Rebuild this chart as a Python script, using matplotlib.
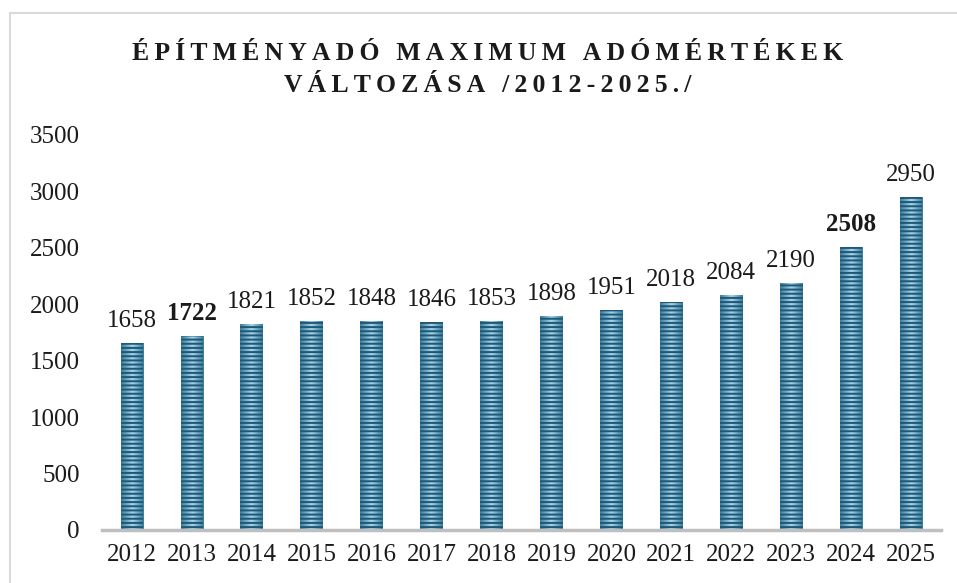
import numpy as np
import matplotlib
matplotlib.use('Agg')
from matplotlib import pyplot as plt
from matplotlib.colors import LinearSegmentedColormap
from matplotlib.patches import Rectangle

years = ['2012', '2013', '2014', '2015', '2016', '2017', '2018',
         '2019', '2020', '2021', '2022', '2023', '2024', '2025']
values = [1658, 1722, 1821, 1852, 1848, 1846, 1853,
          1898, 1951, 2018, 2084, 2190, 2508, 2950]
bold_years = ['2013', '2024']
title_lines = ['ÉPÍTMÉNYADÓ MAXIMUM ADÓMÉRTÉKEK', 'VÁLTOZÁSA /2012-2025./']

serif = ['Liberation Serif', 'DejaVu Serif']
plt.rcParams['font.family'] = serif
plt.rcParams['hatch.linewidth'] = 1.4

fig = plt.figure(figsize=(9.57, 5.83), dpi=100)
ax = fig.add_axes([102 / 957, 1 - 530 / 583, 839 / 957, 395 / 583])

x = np.arange(len(years))
bars = ax.bar(x, values, width=0.38, color='none', edgecolor='#1c5878',
              hatch='----', linewidth=0, zorder=3)

# horizontal gradient inside each bar: darker edges, light centre
cmap = LinearSegmentedColormap.from_list('bar', ['#3d7d9c', '#a8d4e8', '#3d7d9c'])
grad = np.linspace(0, 1, 64).reshape(1, -1)
for b in bars:
    im = ax.imshow(grad, extent=[b.get_x(), b.get_x() + b.get_width(), 0, b.get_height()],
                   aspect='auto', cmap=cmap, zorder=2)
    im.set_clip_path(b)

# value labels
for xi, v, yr in zip(x, values, years):
    ax.annotate(str(v), (xi, v), xytext=(0, 8), textcoords='offset points',
                ha='center', va='bottom', fontsize=18,
                fontweight='bold' if yr in bold_years else 'normal', color='#1a1a1a')

ax.set_xlim(-0.5, len(years) - 0.5)
ax.set_ylim(0, 3500)
ax.set_yticks(np.arange(0, 3501, 500))
ax.set_xticks(x)
ax.set_xticklabels(years)
ax.tick_params(axis='both', length=0, labelsize=18, colors='#1a1a1a')
ax.tick_params(axis='y', pad=16)
ax.tick_params(axis='x', pad=10)
for side in ['top', 'right', 'left']:
    ax.spines[side].set_visible(False)
ax.spines['bottom'].set_color('#bfbfbf')
ax.spines['bottom'].set_linewidth(2.5)
ax.spines['bottom'].set_zorder(4)

# spaced-out title
sp = '\u2009'
for i, line in enumerate(title_lines):
    spaced = sp.join(line)
    fig.text(488 / 957, 1 - (53 + 33 * i) / 583, spaced, ha='center', va='center',
             fontsize=18.5, fontweight='bold', color='#1a1a1a', family=serif)

# light frame around the chart area
fig.patches.append(Rectangle((10 / 957, -0.1), 1.2, 1 - 13 / 583 + 0.1,
                             transform=fig.transFigure, fill=False,
                             edgecolor='#d9d9d9', linewidth=1.5))

fig.savefig('out.png', dpi=100)
